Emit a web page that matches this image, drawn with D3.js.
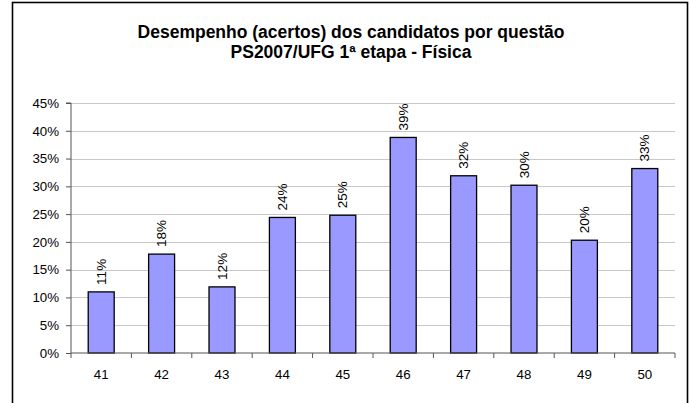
<!DOCTYPE html>
<html><head><meta charset="utf-8">
<script src="https://cdn.jsdelivr.net/npm/d3@7"></script>
<style>body{margin:0;background:#fff}svg{display:block}</style>
</head><body>
<script>
const categories = ["41","42","43","44","45","46","47","48","49","50"];
const values = [0.110, 0.178, 0.119, 0.244, 0.248, 0.388, 0.319, 0.302, 0.203, 0.332];
const labels = ["11%","18%","12%","24%","25%","39%","32%","30%","20%","33%"];
const yTicks = [0,0.05,0.10,0.15,0.20,0.25,0.30,0.35,0.40,0.45];
const titleLines = ["Desempenho (acertos) dos candidatos por questão","PS2007/UFG 1ª etapa - Física"];

const W=690,H=403;
const svg=d3.select("body").append("svg").attr("width",W).attr("height",H);
const font="Liberation Sans, Arial, sans-serif";
svg.append("rect").attr("x",12.5).attr("y",2.5).attr("width",675).attr("height",H+10)
  .attr("fill","#fff").attr("stroke","#000").attr("stroke-width",1.6);

const m={l:71,r:675,t:103,b:353};
const x=d3.scaleBand().domain(categories).range([m.l,m.r]).paddingInner(0.57).paddingOuter(0.285);
const xb=d3.scaleBand().domain(categories).range([m.l,m.r]);
const y=d3.scaleLinear().domain([0,0.45]).range([m.b,m.t]);

svg.append("g").selectAll("line").data(yTicks.slice(1)).join("line")
  .attr("x1",m.l).attr("x2",m.r).attr("y1",d=>Math.round(y(d))+0.5).attr("y2",d=>Math.round(y(d))+0.5)
  .attr("stroke","#c8c8c8").attr("stroke-width",1);

svg.append("g").selectAll("rect").data(values).join("rect")
  .attr("x",(d,i)=>x(categories[i])).attr("width",x.bandwidth())
  .attr("y",d=>y(d)).attr("height",d=>m.b-y(d))
  .attr("fill","#9999ff").attr("stroke","#000").attr("stroke-width",1.3);

const yAxis=d3.axisLeft(y).tickValues(yTicks).tickFormat(d3.format(".0%")).tickSize(5).tickPadding(7);
const ga=svg.append("g").attr("transform",`translate(${m.l},0)`).call(yAxis);
ga.select(".domain").attr("stroke","#555").attr("d",`M-5,${m.t}H0V${m.b}`);
ga.selectAll(".tick line").attr("stroke","#555");
ga.selectAll("text").attr("font-family",font).attr("font-size",13.3).attr("fill","#000");

const xAxis=d3.axisBottom(xb).tickSize(0).tickPadding(17);
const gx=svg.append("g").attr("transform",`translate(0,${m.b})`).call(xAxis);
gx.select(".domain").attr("stroke","#555").attr("d",`M${m.l},0H${m.r}`);
gx.selectAll("text").attr("font-family",font).attr("font-size",13.3).attr("fill","#000");
svg.append("g").selectAll("line").data(categories.map(c=>xb(c)).concat([m.r])).join("line")
  .attr("x1",d=>d).attr("x2",d=>d).attr("y1",m.b).attr("y2",m.b+5).attr("stroke","#555");

svg.append("g").selectAll("text").data(values).join("text")
  .attr("transform",(d,i)=>`translate(${x(categories[i])+x.bandwidth()/2+4.5},${y(d)-7}) rotate(-90)`)
  .attr("font-family",font).attr("font-size",13.5).attr("fill","#000")
  .text((d,i)=>labels[i]);

svg.append("g").selectAll("text").data(titleLines).join("text")
  .attr("x",351).attr("y",(d,i)=>38+i*19.5).attr("text-anchor","middle")
  .attr("font-family",font).attr("font-weight","bold").attr("font-size",17.5).attr("fill","#000")
  .text(d=>d);
</script>
</body></html>
